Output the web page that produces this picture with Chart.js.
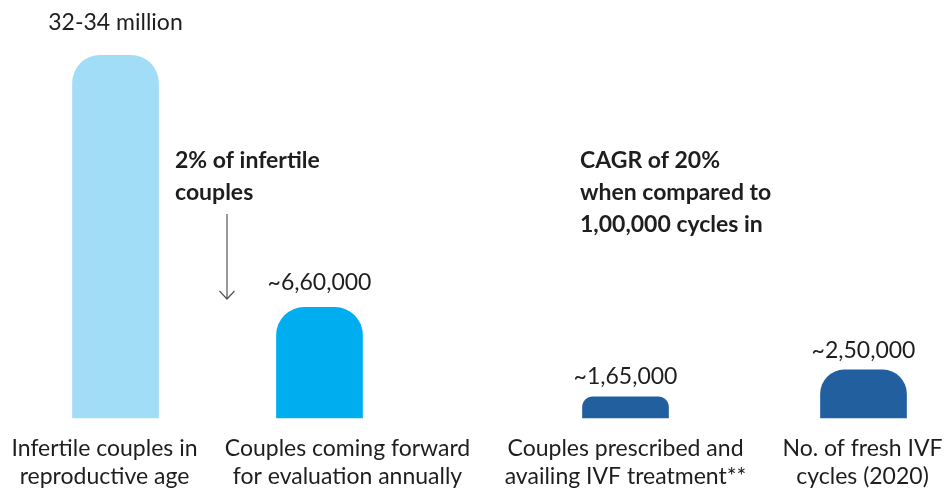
<!DOCTYPE html>
<html>
<head>
<meta charset="utf-8">
<script src="https://cdn.jsdelivr.net/npm/chart.js@4.4.1/dist/chart.umd.min.js"></script>
<style>
  html, body { margin: 0; padding: 0; background: #ffffff; }
  #wrap { width: 951px; height: 492px; position: relative; }
</style>
</head>
<body>
<div id="wrap"><canvas id="funnelChart"></canvas></div>
<script>
// Categories and values
const categories = [
    ['Infertile couples in', 'reproductive age'],
    ['Couples coming forward', 'for evaluation annually'],
    ['Couples prescribed and', 'availing IVF treatment**'],
    ['No. of fresh IVF', 'cycles (2020)']
];
const values = [33000000, 660000, 165000, 250000];
const valueLabels = ['32-34 million', '~6,60,000', '~1,65,000', '~2,50,000'];

// Which column of the grid each bar sits in (uneven gaps between bars)
const slots = [2, 8, 17, 24];
const slotCount = 27;

const barColors = ['#a2ddf8', '#00aeef', '#225f9e', '#225f9e'];
const textColor = '#1e1e1e';
const FONT = 'Lato, "Open Sans", sans-serif';

const labels = new Array(slotCount).fill('');
const series = new Array(slotCount).fill(null);
const colors = new Array(slotCount).fill('#ffffff');
slots.forEach(function(s, i) {
    labels[s] = categories[i].join(' ');
    series[s] = values[i];
    colors[s] = barColors[i];
});

// gap between bar top and its value label
const valueGap = [25, 17, 13, 12];
// category captions are nudged sideways so the first two don't collide
const captionShift = [-11, 28, 0, -1];

const notesPlugin = {
    id: 'notes',
    afterDatasetsDraw: function(chart) {
        const ctx = chart.ctx;
        const meta = chart.getDatasetMeta(0);
        const xScale = chart.scales.x;
        const bottom = chart.chartArea.bottom;
        ctx.save();
        ctx.fillStyle = textColor;
        ctx.textAlign = 'center';
        ctx.textBaseline = 'alphabetic';
        ctx.font = '23px ' + FONT;
        slots.forEach(function(s, i) {
            const bar = meta.data[s];
            ctx.fillText(valueLabels[i], bar.x, bar.y - valueGap[i]);

            // caption under the bar
            const cx = xScale.getPixelForValue(s) + captionShift[i];
            categories[i].forEach(function(line, j) {
                ctx.fillText(line, cx, bottom + 38 + j * 28);
            });
        });

        // side notes
        ctx.textAlign = 'left';
        ctx.font = 'bold 23px ' + FONT;
        ctx.fillText('2% of infertile', 175, 168);
        ctx.fillText('couples', 175, 200);
        ctx.fillText('CAGR of 20%', 580, 168);
        ctx.fillText('when compared to', 580, 200);
        ctx.fillText('1,00,000 cycles in', 580, 232);

        // down arrow
        ctx.strokeStyle = '#555555';
        ctx.lineWidth = 1.2;
        ctx.beginPath();
        ctx.moveTo(227, 214);
        ctx.lineTo(227, 299);
        ctx.moveTo(219.5, 291);
        ctx.lineTo(227, 299);
        ctx.lineTo(234.5, 291);
        ctx.stroke();
        ctx.restore();
    }
};

new Chart(document.getElementById('funnelChart'), {
    type: 'bar',
    data: {
        labels: labels,
        datasets: [{
            data: series,
            backgroundColor: colors,
            barThickness: 86,
            borderRadius: 28,
            borderSkipped: 'bottom',
            clip: false
        }]
    },
    options: {
        responsive: true,
        maintainAspectRatio: false,
        animation: false,
        events: [],
        layout: {
            padding: { left: 30.5, right: 2.5, top: 40, bottom: 74 }
        },
        plugins: {
            legend: { display: false },
            tooltip: { enabled: false }
        },
        scales: {
            x: {
                display: false
            },
            y: {
                type: 'logarithmic',
                display: false,
                min: 118600,
                max: 41800000
            }
        }
    },
    plugins: [notesPlugin]
});
</script>
</body>
</html>
